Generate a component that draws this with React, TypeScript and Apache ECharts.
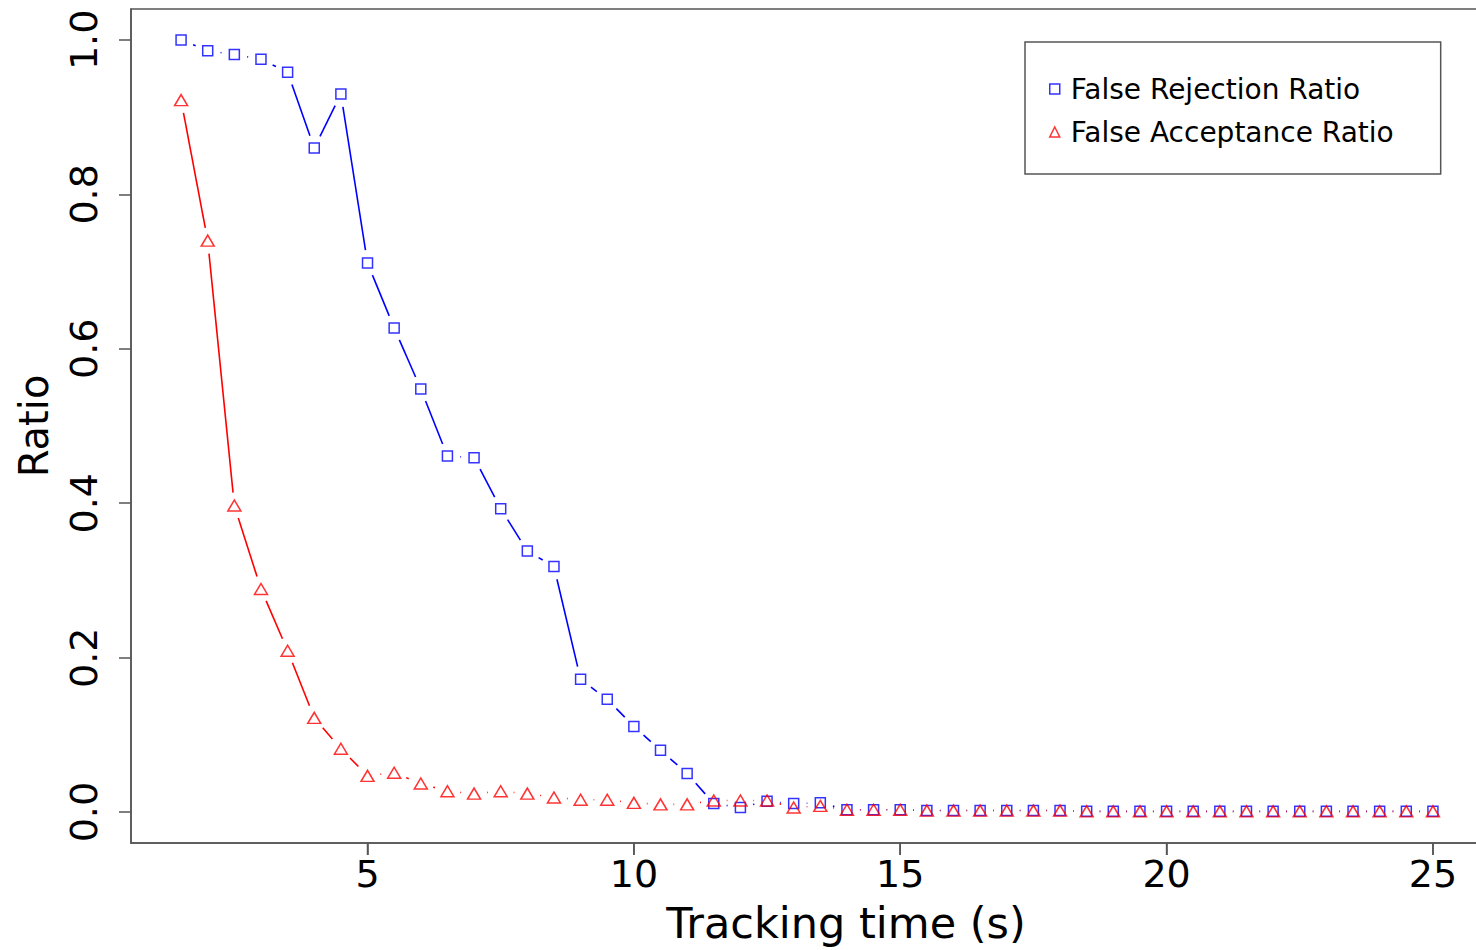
import React, { useEffect, useRef } from "react";
import * as echarts from "echarts";

const trackingTime = [
  1.5, 2, 2.5, 3, 3.5, 4, 4.5, 5,
  5.5, 6, 6.5, 7, 7.5, 8, 8.5, 9,
  9.5, 10, 10.5, 11, 11.5, 12, 12.5, 13,
  13.5, 14, 14.5, 15, 15.5, 16, 16.5, 17,
  17.5, 18, 18.5, 19, 19.5, 20, 20.5, 21,
  21.5, 22, 22.5, 23, 23.5, 24, 24.5, 25,
];

const falseRejection = [
  1.0, 0.986, 0.981, 0.975, 0.958, 0.86, 0.93, 0.711,
  0.627, 0.548, 0.461, 0.459, 0.393, 0.338, 0.318, 0.172,
  0.146, 0.111, 0.08, 0.05, 0.011, 0.006, 0.014, 0.011,
  0.012, 0.003, 0.003, 0.003, 0.002, 0.002, 0.002, 0.002,
  0.002, 0.002, 0.001, 0.001, 0.001, 0.001, 0.001, 0.001,
  0.001, 0.001, 0.001, 0.001, 0.001, 0.001, 0.001, 0.001,
];

const falseAcceptance = [
  0.922, 0.74, 0.397, 0.289, 0.209, 0.122, 0.082, 0.047,
  0.051, 0.037, 0.027, 0.024, 0.027, 0.024, 0.019, 0.016,
  0.016, 0.012, 0.01, 0.01, 0.015, 0.015, 0.015, 0.006,
  0.008, 0.003, 0.003, 0.003, 0.002, 0.002, 0.002, 0.002,
  0.002, 0.002, 0.001, 0.001, 0.001, 0.001, 0.001, 0.001,
  0.001, 0.001, 0.001, 0.001, 0.001, 0.001, 0.001, 0.001,
];

const xTicks = [5, 10, 15, 20, 25];
const yTicks = [0, 0.2, 0.4, 0.6, 0.8, 1.0];
const X_MIN = 0.56;
const X_MAX = 25.94;
const Y_MIN = -0.04;
const Y_MAX = 1.04;

const SERIES_FRR = "False Rejection Ratio";
const SERIES_FAR = "False Acceptance Ratio";
const BLUE = "#0000ff";
const RED = "#ff0000";
const FONT = "DejaVu Sans";
const AXIS_GRAY = "#555555";

function segments(xs: number[], ys: number[]) {
  const out: number[][] = [];
  for (let i = 0; i < xs.length - 1; i++) {
    out.push([xs[i], ys[i], xs[i + 1], ys[i + 1]]);
  }
  return out;
}

function gappedLine(color: string) {
  const GAP = 13;
  return (params: any, api: any) => {
    const p1 = api.coord([api.value(0), api.value(1)]);
    const p2 = api.coord([api.value(2), api.value(3)]);
    const dx = p2[0] - p1[0];
    const dy = p2[1] - p1[1];
    const len = Math.sqrt(dx * dx + dy * dy);
    if (len <= 2 * GAP + 0.5) return null;
    const ux = dx / len;
    const uy = dy / len;
    return {
      type: "line",
      shape: {
        x1: p1[0] + ux * GAP,
        y1: p1[1] + uy * GAP,
        x2: p2[0] - ux * GAP,
        y2: p2[1] - uy * GAP,
      },
      style: { stroke: color, lineWidth: 1.6 },
    };
  };
}

function xTickMark(params: any, api: any) {
  const p = api.coord([api.value(0), api.value(1)]);
  return {
    type: "line",
    shape: { x1: p[0], y1: p[1], x2: p[0], y2: p[1] + 12 },
    style: { stroke: AXIS_GRAY, lineWidth: 1.5 },
  };
}

export default function App() {
  const ref = useRef<HTMLDivElement>(null);

  useEffect(() => {
    document.body.style.margin = "0";
    document.body.style.overflow = "hidden";
    if (!ref.current) return;
    const chart = echarts.init(ref.current, null, { renderer: "svg" });

    const option: any = {
      animation: false,
      backgroundColor: "#ffffff",
      grid: {
        left: 131,
        top: 9,
        width: 1352,
        height: 834,
        show: true,
        borderColor: AXIS_GRAY,
        borderWidth: 1.5,
        backgroundColor: "transparent",
        containLabel: false,
        outerBoundsMode: "none",
      },
      xAxis: {
        type: "value",
        position: "bottom",
        min: X_MIN,
        max: X_MAX,
        name: "Tracking time (s)",
        nameLocation: "middle",
        nameGap: 58,
        nameTextStyle: {
          fontFamily: FONT,
          fontSize: 43,
          color: "#000",
          padding: [0, 0, 0, 78],
        },
        axisLine: { show: true, onZero: false, lineStyle: { color: AXIS_GRAY, width: 1.5 } },
        splitLine: { show: false },
        axisTick: {
          show: true,
          inside: false,
          length: 12,
          customValues: xTicks,
          lineStyle: { color: AXIS_GRAY, width: 1.5 },
        },
        axisLabel: {
          customValues: xTicks,
          margin: 12,
          fontFamily: FONT,
          fontSize: 38,
          color: "#000",
        },
      },
      yAxis: {
        type: "value",
        position: "left",
        min: Y_MIN,
        max: Y_MAX,
        name: "Ratio",
        nameLocation: "middle",
        nameGap: 77,
        nameTextStyle: { fontFamily: FONT, fontSize: 40, color: "#000" },
        axisLine: { show: true, onZero: false, lineStyle: { color: AXIS_GRAY, width: 1.5 } },
        splitLine: { show: false },
        axisTick: {
          show: true,
          inside: false,
          length: 12,
          customValues: yTicks,
          lineStyle: { color: AXIS_GRAY, width: 1.5 },
        },
        axisLabel: {
          customValues: yTicks,
          rotate: 90,
          margin: 28,
          fontFamily: FONT,
          fontSize: 38,
          color: "#000",
          formatter: (v: number) => v.toFixed(1),
        },
      },
      legend: {
        orient: "vertical",
        left: 1025,
        top: 42,
        padding: [32, 47, 27, 24],
        itemGap: 13,
        itemWidth: 10,
        itemHeight: 10,
        borderColor: AXIS_GRAY,
        borderWidth: 1.5,
        selectedMode: false,
        textStyle: {
          fontFamily: FONT,
          fontSize: 28,
          color: "#000",
          lineHeight: 30,
          padding: [0, 0, 0, 6],
        },
        data: [
          {
            name: SERIES_FRR,
            icon: "rect",
            itemStyle: { color: "transparent", borderColor: BLUE, borderWidth: 1.5 },
          },
          {
            name: SERIES_FAR,
            icon: "triangle",
            itemStyle: { color: "transparent", borderColor: RED, borderWidth: 1.5 },
          },
        ],
      },
      series: [
        {
          type: "custom",
          name: "x-ticks",
          renderItem: xTickMark,
          data: xTicks.map((v) => [v, Y_MIN]),
          encode: { x: 0, y: 1 },
          clip: false,
          silent: true,
          z: 5,
        },
        {
          type: "custom",
          name: "frr-line",
          renderItem: gappedLine(BLUE),
          data: segments(trackingTime, falseRejection),
          encode: { x: [0, 2], y: [1, 3] },
          clip: true,
          silent: true,
        },
        {
          type: "custom",
          name: "far-line",
          renderItem: gappedLine(RED),
          data: segments(trackingTime, falseAcceptance),
          encode: { x: [0, 2], y: [1, 3] },
          clip: true,
          silent: true,
        },
        {
          type: "scatter",
          name: SERIES_FRR,
          symbol: "rect",
          symbolSize: 10,
          data: trackingTime.map((x, i) => [x, falseRejection[i]]),
          itemStyle: { color: "transparent", borderColor: BLUE, borderWidth: 1.5 },
          z: 3,
        },
        {
          type: "scatter",
          name: SERIES_FAR,
          symbol: "triangle",
          symbolSize: [13, 11],
          data: trackingTime.map((x, i) => [x, falseAcceptance[i]]),
          itemStyle: { color: "transparent", borderColor: RED, borderWidth: 1.5 },
          z: 4,
        },
      ],
    };

    chart.setOption(option);
    return () => chart.dispose();
  }, []);

  return <div ref={ref} style={{ width: 1476, height: 950 }} />;
}
